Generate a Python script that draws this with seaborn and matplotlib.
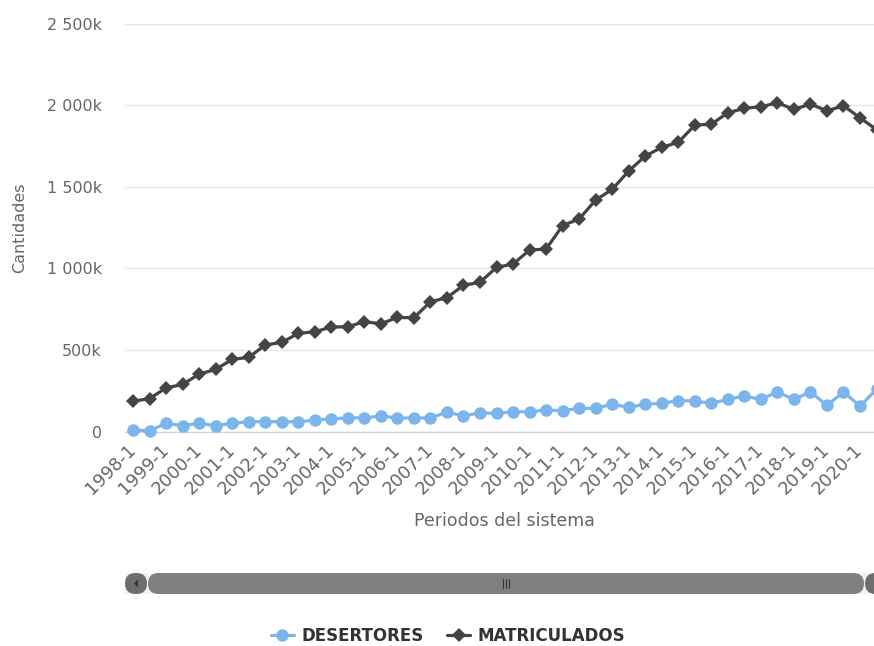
import matplotlib
matplotlib.use("Agg")
import matplotlib.pyplot as plt
import numpy as np
import pandas as pd
import seaborn as sns
from matplotlib.lines import Line2D
from matplotlib.patches import FancyBboxPatch, Rectangle, Polygon
from matplotlib.ticker import FuncFormatter
import matplotlib.transforms as mtransforms

# Academic periods (semesters)
periodos = [
    "1998-1", "1998-2", "1999-1", "1999-2", "2000-1", "2000-2", "2001-1", "2001-2",
    "2002-1", "2002-2", "2003-1", "2003-2", "2004-1", "2004-2", "2005-1", "2005-2",
    "2006-1", "2006-2", "2007-1", "2007-2", "2008-1", "2008-2", "2009-1", "2009-2",
    "2010-1", "2010-2", "2011-1", "2011-2", "2012-1", "2012-2", "2013-1", "2013-2",
    "2014-1", "2014-2", "2015-1", "2015-2", "2016-1", "2016-2", "2017-1", "2017-2",
    "2018-1", "2018-2", "2019-1", "2019-2", "2020-1", "2020-2",
]

desertores = [
    9000, 5000, 50000, 36000, 50000, 36000, 50000, 60000,
    60000, 60000, 60000, 70000, 78000, 83000, 84000, 95000,
    83000, 83000, 83000, 119000, 95000, 115000, 111000, 121000,
    121000, 132000, 127000, 142000, 142000, 167000, 148000, 167000,
    173000, 189000, 187000, 173000, 197000, 217000, 197000, 242000,
    197000, 242000, 160000, 242000, 156000, 258000,
]

matriculados = [
    186000, 201000, 268000, 288000, 352000, 380000, 442000, 454000,
    530000, 546000, 601000, 611000, 640000, 642000, 673000, 660000,
    699000, 697000, 795000, 820000, 896000, 914000, 1006000, 1026000,
    1112000, 1118000, 1262000, 1302000, 1418000, 1484000, 1596000, 1688000,
    1741000, 1772000, 1877000, 1883000, 1953000, 1980000, 1990000, 2014000,
    1974000, 2006000, 1965000, 1996000, 1922000, 1850000,
]

y_ticks = [0, 500000, 1000000, 1500000, 2000000, 2500000]

C_DES = "#7cb5ec"
C_MAT = "#434348"
C_TXT = "#666666"

sns.set_theme(style="white")
plt.rcParams["font.family"] = ["DejaVu Sans"]

W, H = 874, 646
fig = plt.figure(figsize=(W / 100, H / 100), dpi=100)
fig.patch.set_facecolor("white")

left_px, right_px = 124.8, 884.8
top_px, bottom_px = 23.5, 431.5
ax = fig.add_axes([left_px / W, 1 - bottom_px / H,
                   (right_px - left_px) / W, (bottom_px - top_px) / H])

df = pd.DataFrame({"Periodo": periodos,
                   "DESERTORES": desertores,
                   "MATRICULADOS": matriculados})

sns.lineplot(data=df, x="Periodo", y="DESERTORES", ax=ax, color=C_DES,
             marker="o", markersize=9, markeredgewidth=0, linewidth=2.3,
             sort=False, clip_on=False, zorder=3)
sns.lineplot(data=df, x="Periodo", y="MATRICULADOS", ax=ax, color=C_MAT,
             marker="D", markersize=6.8, markeredgewidth=0, linewidth=2.3,
             sort=False, clip_on=False, zorder=4)

ax.set_xlim(-0.5, len(periodos) - 0.5)
ax.set_ylim(0, 2500000)
ax.set_yticks(y_ticks)


def miles(v, _):
    if v == 0:
        return "0"
    return f"{v / 1000:,.0f}k".replace(",", " ")


ax.yaxis.set_major_formatter(FuncFormatter(miles))
ax.set_xticks(range(0, len(periodos), 2))
ax.set_xticklabels(periodos[::2], rotation=45, ha="right", va="center",
                   rotation_mode="anchor")
# nudge the rotated period labels slightly left
shift = mtransforms.ScaledTranslation(-3 / 100, 0, fig.dpi_scale_trans)
for lbl in ax.get_xticklabels():
    lbl.set_transform(lbl.get_transform() + shift)

ax.grid(False)
ax.yaxis.grid(True, color="#e6e6e6", linewidth=1)
for side in ("top", "right", "left"):
    ax.spines[side].set_visible(False)
ax.spines["bottom"].set_color("#ccd6eb")
ax.spines["bottom"].set_linewidth(1)
ax.spines["bottom"].set_zorder(2)

ax.tick_params(axis="y", length=0, pad=16.5, labelsize=11.5, labelcolor=C_TXT)
ax.tick_params(axis="x", length=0, pad=11, labelsize=12.8, labelcolor=C_TXT)

ax.set_xlabel("Periodos del sistema", fontsize=12.5, color=C_TXT)
ax.set_ylabel("Cantidades", fontsize=11.5, color=C_TXT)
ax.xaxis.set_label_coords(0.5, (bottom_px - 521) / (bottom_px - top_px))
ax.xaxis.label.set_va("center")
ax.yaxis.set_label_coords((20 - left_px) / (right_px - left_px), 0.5)
ax.yaxis.label.set_va("center")

# Scrollbar below the plot, drawn in pixel coordinates
ov = fig.add_axes([0, 0, 1, 1], zorder=-1)
ov.set_xlim(0, W)
ov.set_ylim(H, 0)
ov.axis("off")

sb_top, sb_h = 573, 21
ov.add_patch(Rectangle((125, sb_top), 762, sb_h, facecolor="#f2f2f2",
                       edgecolor="none"))
ov.add_patch(FancyBboxPatch((125, sb_top), 22, sb_h,
                            boxstyle="round,pad=0,rounding_size=10.5",
                            facecolor="#6e6e6e", edgecolor="none"))
ov.add_patch(Polygon([[134, sb_top + sb_h / 2], [138, sb_top + sb_h / 2 - 4],
                      [138, sb_top + sb_h / 2 + 4]], closed=True,
                     facecolor="#333333", edgecolor="none"))
ov.add_patch(FancyBboxPatch((148, sb_top), 716, sb_h,
                            boxstyle="round,pad=0,rounding_size=10.5",
                            facecolor="#808080", edgecolor="none"))
for gx in (502.5, 505.5, 508.5):
    ov.plot([gx, gx], [sb_top + 6, sb_top + 15], color="#333333", lw=0.8)
ov.add_patch(FancyBboxPatch((865, sb_top), 22, sb_h,
                            boxstyle="round,pad=0,rounding_size=10.5",
                            facecolor="#6e6e6e", edgecolor="none"))

handles = [
    Line2D([0], [0], color=C_DES, lw=2.3, marker="o", markersize=9,
           markeredgewidth=0),
    Line2D([0], [0], color=C_MAT, lw=2.3, marker="D", markersize=6.8,
           markeredgewidth=0),
]
fig.legend(handles, ["DESERTORES", "MATRICULADOS"], loc="center",
           bbox_to_anchor=(448 / W, 1 - 636 / H), ncol=2, frameon=False,
           prop={"weight": "bold", "size": 12}, labelcolor="#333333",
           handlelength=1.4, handletextpad=0.45, columnspacing=1.4)

fig.savefig("out.png", dpi=100)
